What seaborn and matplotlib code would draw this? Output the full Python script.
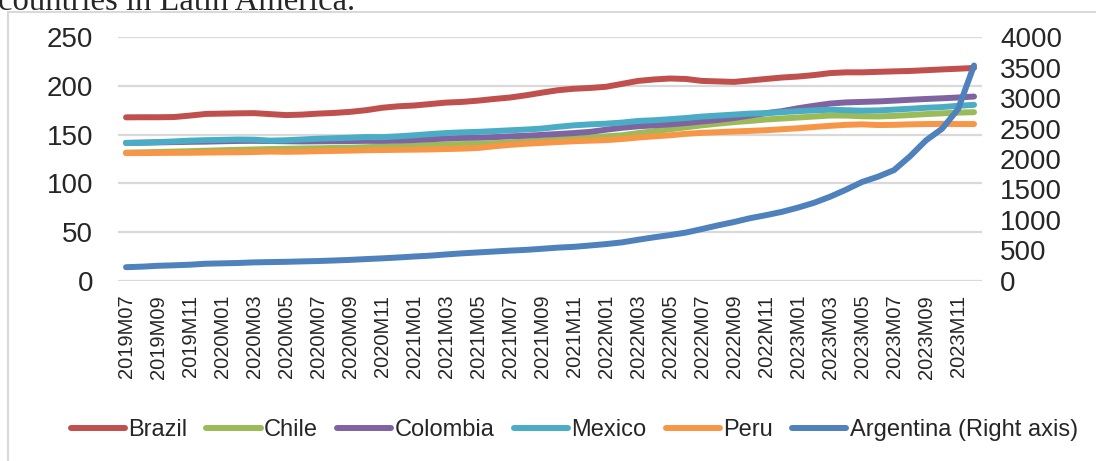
import pandas as pd
import numpy as np
import matplotlib
matplotlib.use("Agg")
import matplotlib.pyplot as plt
from matplotlib.patches import Rectangle
import seaborn as sns

# monthly index values, 2019M07 .. 2023M12
months = [p.strftime("%YM%m") for p in pd.period_range("2019-07", "2023-12", freq="M")]

brazil = [167.7, 167.8, 167.8, 168.0, 169.5, 171.2, 171.5, 171.8, 172.0, 171.0, 170.0, 170.5,
          171.5, 172.2, 173.3, 175.0, 177.5, 179.0, 179.8, 181.3, 182.8, 183.5, 184.8, 186.5,
          188.0, 190.3, 193.0, 195.5, 197.0, 197.8, 199.0, 202.0, 205.0, 206.5, 207.5, 207.0,
          205.0, 204.5, 204.0, 205.5, 207.0, 208.5, 209.5, 211.0, 213.0, 213.8, 213.8, 214.3,
          214.8, 215.2, 216.0, 216.8, 217.5, 218.3]
chile = [131.5, 131.8, 132.2, 132.6, 133.0, 133.5, 134.0, 134.4, 134.8, 135.2, 135.5, 135.8,
         136.0, 136.3, 136.6, 137.1, 137.6, 138.2, 138.9, 139.4, 139.9, 140.3, 140.6, 141.2,
         142.0, 142.8, 143.8, 145.0, 146.0, 147.0, 148.2, 149.3, 151.5, 153.5, 155.5, 157.5,
         159.5, 161.2, 162.8, 164.0, 165.5, 166.5, 167.5, 168.5, 169.5, 169.5, 168.8, 168.6,
         169.2, 170.0, 171.0, 171.8, 172.5, 173.0]
colombia = [141.5, 141.8, 142.0, 142.3, 142.6, 142.8, 143.2, 143.5, 143.6, 143.4, 143.2, 143.0,
            143.1, 143.2, 143.4, 143.6, 143.5, 143.9, 144.4, 145.2, 146.0, 146.6, 146.8, 147.4,
            148.2, 148.8, 149.7, 150.6, 151.6, 152.8, 155.0, 157.0, 158.5, 159.5, 160.5, 161.8,
            163.5, 165.0, 167.0, 169.5, 172.0, 174.0, 177.0, 179.5, 181.8, 183.0, 183.5, 184.0,
            184.8, 185.7, 186.5, 187.2, 188.0, 189.0]
mexico = [141.4, 141.6, 142.3, 143.0, 143.8, 144.3, 144.6, 145.0, 144.8, 143.8, 144.2, 145.0,
          145.8, 146.3, 146.8, 147.5, 147.4, 148.2, 149.3, 150.5, 151.6, 152.3, 152.8, 153.6,
          154.4, 155.2, 156.2, 158.0, 159.5, 160.5, 161.2, 162.3, 164.0, 164.7, 165.8, 167.0,
          168.5, 169.5, 170.5, 171.5, 172.0, 173.0, 174.0, 174.8, 175.5, 175.0, 174.5, 174.8,
          175.6, 176.5, 177.5, 178.2, 179.5, 180.5]
peru = [131.0, 131.1, 131.2, 131.3, 131.4, 131.6, 131.8, 131.9, 132.2, 132.6, 132.4, 132.6,
        133.0, 133.3, 133.6, 134.0, 134.2, 134.4, 134.6, 134.8, 135.2, 135.6, 136.3, 138.0,
        139.5, 140.6, 141.5, 142.4, 143.2, 143.8, 144.3, 145.5, 147.0, 148.2, 149.3, 150.8,
        151.8, 152.5, 153.2, 153.8, 154.5, 155.5, 156.5, 157.8, 159.0, 160.0, 160.5, 159.8,
        160.0, 160.5, 160.8, 161.0, 160.8, 160.8]
argentina = [226, 235, 249, 257, 267, 283, 289, 295, 305, 310, 314, 321,
             327, 336, 346, 359, 371, 385, 401, 415, 435, 453, 468, 483,
             498, 510, 528, 547, 560, 582, 605, 633, 676, 716, 753, 794,
             852, 912, 967, 1029, 1079, 1134, 1203, 1282, 1381, 1497, 1623, 1710,
             1818, 2044, 2305, 2496, 2816, 3533]

countries = ["Brazil", "Chile", "Colombia", "Mexico", "Peru"]
colors = {"Brazil": "#C0504D", "Chile": "#9BBB59", "Colombia": "#8064A2",
          "Mexico": "#4BACC6", "Peru": "#F79646"}
arg_color = "#4F81BD"

df = pd.DataFrame({"Brazil": brazil, "Chile": chile, "Colombia": colombia,
                   "Mexico": mexico, "Peru": peru})
df["t"] = range(len(months))
long = df.melt(id_vars="t", var_name="country", value_name="value")
arg = pd.DataFrame({"t": range(len(months)), "value": argentina})

sns.set_style("white")
plt.rcParams["font.family"] = ["Liberation Sans", "DejaVu Sans"]

fig = plt.figure(figsize=(10.96, 4.61), dpi=100)
ax = fig.add_axes([0.1077, 0.3905, 0.7883, 0.5292])
ax2 = ax.twinx()

lw = 4.3
sns.lineplot(data=long, x="t", y="value", hue="country", hue_order=countries,
             palette=colors, linewidth=lw, legend=False, ax=ax)
sns.lineplot(data=arg, x="t", y="value", color=arg_color, linewidth=lw,
             legend=False, ax=ax2)
for l in ax.get_lines() + ax2.get_lines():
    l.set_solid_capstyle("round")
    l.set_solid_joinstyle("round")

ax.set_xlim(-0.5, len(months) - 0.5)
ax.set_ylim(0, 250)
ax2.set_ylim(0, 4000)
ax.set_yticks(np.arange(0, 251, 50))
ax2.set_yticks(np.arange(0, 4001, 500))
ax.set_xticks(range(0, len(months), 2))
ax.set_xticklabels(months[::2], rotation=90, fontsize=14.5)
ax.set_xlabel("")
ax.set_ylabel("")
ax2.set_ylabel("")

ax.yaxis.grid(True, color="#D9D9D9", linewidth=1.6)
ax.xaxis.grid(False)
ax2.grid(False)
for a in (ax, ax2):
    for s in a.spines.values():
        s.set_visible(False)
ax.tick_params(axis="y", length=0, labelsize=20, pad=18)
ax.tick_params(axis="x", length=0, pad=10)
ax2.tick_params(axis="y", length=0, labelsize=20, pad=13)

handles = ax.get_lines()[:5] + ax2.get_lines()[:1]
labels = countries + ["Argentina (Right axis)"]
fig.legend(handles, labels, loc="center", bbox_to_anchor=(0.524, 0.067), ncol=6,
           frameon=False, fontsize=17, handlelength=2.3, handletextpad=0.15,
           columnspacing=0.8)

# chart frame and the cut-off caption above it
fig.patches.append(Rectangle((8 / 1096, -0.1), 1.2, 1.074, transform=fig.transFigure,
                             fill=False, edgecolor="#D9D9D9", linewidth=1.5))
fig.text(-0.002, 0.978, "countries in Latin America.", fontsize=23.5,
         family=["Liberation Serif", "DejaVu Serif"], va="baseline", ha="left")

fig.savefig("out.png", dpi=100)
